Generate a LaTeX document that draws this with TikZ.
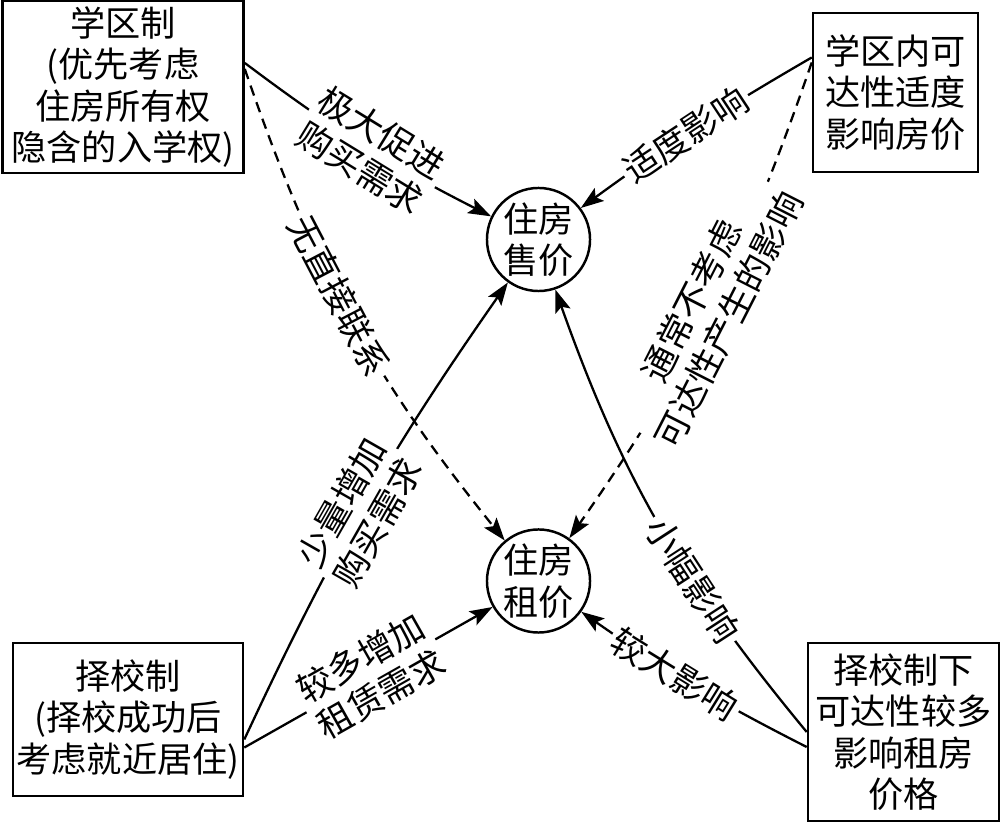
\documentclass[tikz,border=0pt]{standalone}
\usepackage{fontspec}
\setmainfont{Noto Sans CJK SC}
\usetikzlibrary{arrows.meta}
\begin{document}
\begin{tikzpicture}[x=0.01cm,y=-0.01cm,>={Stealth[length=6.5pt,width=4.5pt,inset=1.3pt]},line width=0.65pt,
  font=\fontsize{10pt}{11.8pt}\selectfont,
  kuang/.style={draw,line width=0.7pt,align=center,inner sep=0pt},
  yuan/.style={draw,circle,line width=0.7pt,minimum size=1.03cm,inner sep=0pt,align=center},
  xu/.style={dash pattern=on 3pt off 2pt},
  shuo/.style={sloped,fill=white,inner sep=1pt,align=center}]
\useasboundingbox (0,0) rectangle (1000,822);
\node[kuang,minimum width=2.41cm,minimum height=1.72cm] (xqz) at (123,87) {学区制\\(优先考虑\\住房所有权\\隐含的入学权)};
\node[kuang,minimum width=1.65cm,minimum height=1.59cm] (kdx) at (895.5,92.5) {学区内可\\达性适度\\影响房价};
\node[kuang,minimum width=2.3cm,minimum height=1.53cm] (zxz) at (128,719.5) {择校制\\(择校成功后\\考虑就近居住)};
\node[kuang,minimum width=1.91cm,minimum height=1.78cm] (zkd) at (903.5,732) {择校制下\\可达性较多\\影响租房\\价格};
\node[yuan] (sj) at (538.5,239.5) {住房\\售价};
\node[yuan] (zj) at (538.5,581) {住房\\租价};
\draw[->] ([yshift=0.24cm]xqz.east) to[bend right=5] node[shuo,pos=0.53]{极大促进\\购买需求} (sj);
\draw[->,xu] ([yshift=0.18cm]xqz.east) to[bend right=10] node[shuo,pos=0.45]{无直接联系} (zj);
\draw[->] ([yshift=0.35cm]kdx.west) to[bend right=3] node[shuo,pos=0.54]{适度影响} (sj);
\draw[->,xu] ([yshift=0.3cm]kdx.west) to[bend left=8] node[shuo,pos=0.5,inner sep=0pt]{通常不考虑\\可达性产生的影响} (zj);
\draw[->] ([yshift=-0.2cm]zxz.east) to[bend left=5] node[shuo,pos=0.48]{少量增加\\购买需求} (sj);
\draw[->] ([yshift=-0.28cm]zxz.east) -- node[shuo,pos=0.51]{较多增加\\租赁需求} (zj);
\draw[->] (zkd.west) to[bend left=10] node[shuo,pos=0.36]{小幅影响} (sj);
\draw[->] ([yshift=-0.15cm]zkd.west) to[bend left=4] node[shuo,pos=0.58]{较大影响} (zj);
\end{tikzpicture}
\end{document}
